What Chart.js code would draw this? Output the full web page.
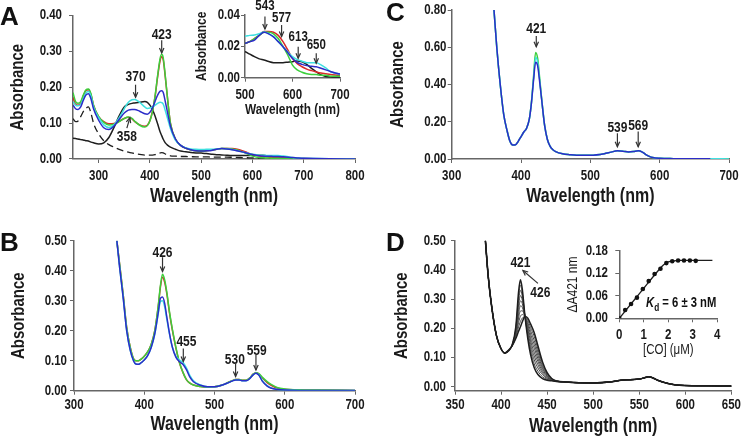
<!DOCTYPE html>
<html><head><meta charset="utf-8">
<script src="https://cdn.jsdelivr.net/npm/chart.js@4.4.1/dist/chart.umd.min.js"></script>
<style>
html,body{margin:0;padding:0;width:745px;height:437px;overflow:hidden;background:#fff;}
canvas{position:absolute;left:0;top:0;}
.lbl{position:absolute;font-family:"Liberation Sans",Arial,sans-serif;font-weight:bold;color:#111;line-height:24px;white-space:nowrap;}
</style></head><body>
<canvas id="cA" width="745" height="437"></canvas>
<canvas id="cAi" width="745" height="437"></canvas>
<canvas id="cB" width="745" height="437"></canvas>
<canvas id="cC" width="745" height="437"></canvas>
<canvas id="cD" width="745" height="437"></canvas>
<canvas id="cDi" width="745" height="437"></canvas>
<div class="lbl" style="left:0px;top:4px;font-size:26px;">A</div>
<div class="lbl" style="left:0px;top:230px;font-size:26px;">B</div>
<div class="lbl" style="left:386px;top:0px;font-size:26px;">C</div>
<div class="lbl" style="left:386px;top:230px;font-size:26px;">D</div>
<div class="lbl" style="left:646px;top:290px;font-size:15px;transform:scaleX(0.75);transform-origin:0 0;"><i>K</i><span style="font-size:11px;position:relative;top:4px;">d</span> = 6 ± 3 nM</div>
<script>
// ---------------- Panel A ----------------
const A_wl = [250,255,260,265,270,275,280,285,290,300,310,320,330,340,350,358,365,370,380,390,395,400,405,410,415,420,423,426,430,435,440,450,460,470,480,490,500,510,520,530,540,550,560,570,580,590,600,610,620,630,640,650,660,670,680,690,700,750,800];
const A_green = [.185,.160,.155,.160,.178,.192,.195,.182,.150,.118,.102,.095,.097,.104,.113,.117,.113,.106,.094,.089,.093,.106,.132,.175,.232,.281,.292,.282,.232,.160,.100,.055,.038,.030,.026,.023,.022,.023,.025,.027,.029,.029,.028,.025,.020,.0145,.008,.005,.0035,.0025,.002,.002,.0015,.0015,.001,.001,.001,0,0];
const A_red = [.172,.152,.150,.156,.175,.190,.193,.180,.150,.118,.104,.098,.099,.105,.113,.116,.112,.105,.095,.091,.094,.107,.133,.173,.228,.275,.285,.276,.228,.160,.100,.055,.038,.030,.026,.023,.022,.023,.025,.027,.0295,.0295,.029,.027,.023,.0177,.0123,.009,.007,.0055,.0045,.0037,.003,.0025,.002,.0017,.0015,0,0];
const A_blue = [.150,.140,.138,.145,.163,.178,.182,.168,.140,.108,.087,.082,.092,.110,.128,.136,.138,.138,.133,.126,.125,.130,.142,.160,.178,.189,.190,.185,.160,.125,.092,.055,.038,.030,.026,.023,.022,.023,.024,.027,.029,.028,.026,.023,.0198,.016,.0123,.0097,.0085,.0077,.0073,.007,.006,.005,.004,.003,.0023,.0005,0];
const A_cyan = [.160,.150,.148,.152,.168,.183,.188,.175,.145,.115,.095,.088,.095,.115,.140,.158,.165,.166,.158,.145,.141,.142,.145,.150,.155,.158,.157,.153,.135,.110,.085,.052,.038,.031,.028,.027,.0265,.027,.0272,.028,.0292,.028,.0262,.023,.0198,.0165,.0134,.0115,.0105,.0096,.0095,.0095,.0082,.0062,.0038,.003,.0023,.0005,0];
const A_black = [.058,.057,.056,.054,.053,.051,.050,.047,.045,.042,.045,.060,.088,.120,.145,.152,.155,.156,.158,.160,.158,.150,.138,.120,.098,.075,.065,.055,.045,.038,.033,.027,.022,.020,.018,.017,.0166,.015,.0134,.012,.0113,.0103,.0096,.0095,.0096,.0099,.0102,.0107,.0102,.0085,.006,.0038,.0018,.0008,.0004,.0002,0,0,0];
const A_dashed = [.112,.104,.106,.118,.132,.141,.145,.128,.100,.070,.051,.040,.033,.027,.022,.019,.017,.015,.013,.011,.011,.011,.011,.012,.015,.017,.018,.017,.014,.011,.009,.008,.007,.007,.0065,.006,.006,.0058,.0055,.0053,.005,.005,.0048,.0045,.004,.0035,.003,.0028,.0025,.0022,.002,.0018,.0016,.0014,.0012,.001,.001,.0005,0];
const A_xTicks = [300,400,500,600,700,800];
const A_yTicks = [0,0.1,0.2,0.3,0.4];
const Ai_xTicks = [500,600,700];
const Ai_yTicks = [0,0.02,0.04];
const A_notes = [
  {t:'423', tx:423, ty:0.346, ax:423, ay:0.331, bx:423, by:0.295},
  {t:'370', tx:372, ty:0.228, ax:372, ay:0.207, bx:372, by:0.172},
  {t:'358', tx:355, ty:0.060, ax:355, ay:0.086, bx:361, by:0.115}
];
const Ai_notes = [
  {t:'543', tx:542, ty:0.0458, ax:542, ay:0.039, bx:542, by:0.031},
  {t:'577', tx:577, ty:0.038, ax:577, ay:0.0336, bx:577, by:0.0262},
  {t:'613', tx:612, ty:0.026, ax:612, ay:0.0198, bx:612, by:0.0124},
  {t:'650', tx:650, ty:0.0209, ax:650, ay:0.0156, bx:650, by:0.0092}
];
// ---------------- Panel B ----------------
const B_wl = [361,365,370,375,380,385,388,392,396,400,405,410,415,420,423,426,429,432,436,440,445,450,455,460,465,470,480,490,500,510,520,525,530,535,540,545,550,555,559,563,568,575,580,590,600,620,650,700];
const B_blue = [.50,.41,.31,.20,.135,.098,.089,.088,.094,.102,.118,.145,.190,.262,.308,.312,.292,.248,.190,.145,.112,.097,.088,.070,.045,.030,.018,.013,.013,.018,.027,.032,.036,.036,.033,.033,.040,.053,.058,.052,.032,.015,.009,.004,.002,.001,.001,.001];
const B_cyan = [.50,.41,.31,.20,.135,.098,.089,.088,.094,.102,.118,.145,.188,.258,.297,.300,.280,.240,.188,.146,.115,.102,.095,.076,.050,.033,.019,.013,.013,.018,.027,.032,.036,.036,.033,.033,.040,.053,.058,.053,.034,.017,.010,.004,.002,.001,.001,.001];
const B_green = [.50,.42,.32,.21,.145,.105,.100,.100,.106,.115,.130,.155,.200,.285,.350,.388,.370,.330,.262,.205,.145,.095,.062,.037,.025,.019,.014,.012,.013,.018,.028,.033,.037,.037,.035,.035,.042,.055,.060,.057,.045,.030,.022,.010,.006,.003,.002,.001];
const B_red = [.50,.42,.32,.21,.145,.105,.100,.100,.106,.115,.130,.155,.200,.282,.345,.378,.362,.325,.258,.202,.143,.094,.061,.037,.025,.019,.014,.012,.013,.018,.028,.033,.037,.037,.035,.035,.042,.055,.060,.056,.043,.027,.019,.008,.005,.003,.002,.001];
const B_xTicks = [300,400,500,600,700];
const B_yTicks = [0,0.1,0.2,0.3,0.4,0.5];
const B_notes = [
  {t:'426', tx:426, ty:0.460, ax:426, ay:0.445, bx:426, by:0.397},
  {t:'455', tx:460, ty:0.163, ax:455.6, ay:0.141, bx:455.6, by:0.097},
  {t:'530', tx:529, ty:0.102, ax:530, ay:0.091, bx:530, by:0.047},
  {t:'559', tx:560, ty:0.132, ax:559, ay:0.119, bx:559, by:0.069}
];
// ---------------- Panel C ----------------
const C_wl = [361,365,370,375,380,384,388,392,396,400,404,408,412,415,418,421,424,427,430,434,438,442,446,450,460,470,480,500,520,530,539,547,555,562,569,575,580,585,590,600,620,650,673,700];
const C_blue = [.80,.60,.40,.24,.15,.095,.075,.076,.095,.120,.145,.165,.215,.300,.420,.520,.500,.410,.310,.180,.105,.068,.050,.040,.028,.023,.020,.020,.028,.037,.044,.042,.038,.040,.044,.037,.024,.014,.008,.004,.002,.001,.001,null];
const C_green = [.80,.60,.40,.24,.15,.095,.075,.076,.095,.120,.145,.165,.215,.305,.440,.572,.540,.430,.315,.182,.106,.068,.050,.040,.028,.023,.020,.020,.028,.037,.044,.042,.038,.040,.044,.037,.024,.014,.008,.004,.002,.001,.001,.0005];
const C_cyan = [.80,.60,.40,.24,.15,.095,.075,.076,.095,.120,.145,.165,.215,.302,.430,.545,.520,.420,.312,.181,.105,.068,.050,.040,.028,.023,.020,.020,.028,.037,.044,.042,.038,.040,.044,.037,.024,.014,.008,.004,.002,.001,.001,.0005];
const C_xTicks = [300,400,500,600,700];
const C_yTicks = [0,0.2,0.4,0.6,0.8];
const C_notes = [
  {t:'421', tx:422, ty:0.696, ax:422, ay:0.660, bx:422, by:0.603},
  {t:'539', tx:539, ty:0.165, ax:539, ay:0.138, bx:539, by:0.066},
  {t:'569', tx:569, ty:0.177, ax:569, ay:0.147, bx:569, by:0.066}
];
// ---------------- Panel D ----------------
const D_wlLow = [383,386,390,395,400];
const D_low = [.50,.38,.27,.175,.13];
const D_wlSoret = [404,408,412,416,419,421,423,426,429,432,436,440,445,450,455,460];
const D_soret = [
  [.115,.125,.140,.165,.190,.205,.222,.240,.235,.215,.185,.140,.085,.048,.028,.020], // 426 nm (start)
  [.115,.125,.140,.169,.205,.223,.235,.240,.227,.203,.172,.129,.079,.045,.027,.020],
  [.115,.124,.141,.174,.220,.241,.247,.240,.219,.192,.158,.118,.072,.042,.026,.020],
  [.115,.124,.141,.178,.235,.259,.260,.240,.212,.180,.145,.107,.066,.039,.025,.019],
  [.115,.124,.141,.183,.250,.277,.272,.240,.204,.168,.132,.096,.060,.036,.024,.019],
  [.115,.123,.142,.187,.265,.294,.285,.240,.196,.157,.118,.086,.053,.034,.024,.019],
  [.115,.123,.142,.192,.280,.312,.297,.240,.188,.145,.105,.075,.047,.031,.023,.019],
  [.115,.123,.142,.196,.295,.330,.310,.240,.181,.133,.092,.064,.041,.028,.022,.018],
  [.115,.122,.143,.201,.310,.348,.322,.240,.173,.122,.078,.053,.034,.025,.021,.018],
  [.115,.122,.143,.205,.325,.366,.335,.240,.165,.110,.065,.042,.028,.022,.020,.018]  // 421 nm (CO)
];
const D_wlHigh = [470,480,500,520,530,540,550,555,560,565,570,580,590,600,625,650];
const D_high = [.016,.014,.013,.017,.022,.024,.026,.030,.034,.030,.022,.012,.006,.004,.003,.002];
const D_xTicks = [350,400,450,500,550,600,650];
const D_yTicks = [0,0.1,0.2,0.3,0.4,0.5];
const D_notes = [
  {t:'421', tx:421, ty:0.4226},
  {t:'426', tx:442.6, ty:0.322, ax:440, ay:0.354, bx:423.7, by:0.398}
];
// inset D: CO titration
const Di_co = [0,0.24,0.48,0.72,0.96,1.2,1.44,1.68,1.92,2.16,2.4,2.64,2.88,3.12];
const Di_dA = [0,0.022,0.038,0.055,0.078,0.099,0.118,0.132,0.147,0.152,0.154,0.154,0.154,0.153];
const Di_fitX = [0,0.5,1.0,1.5,1.8,2.0,2.2,2.5,3.0,3.8];
const Di_fitY = [0,0.040,0.080,0.120,0.142,0.150,0.153,0.154,0.154,0.154];
const Di_xTicks = [0,1,2,3,4];
const Di_yTicks = [0,0.06,0.12,0.18];

// ---------------- narrow text (the figure uses a condensed sans) ----------------
const SX = 0.82, K = 1/SX;
const FONT = '"Liberation Sans", Arial, sans-serif';
function narrowCanvas(canvas){
  const ctx = canvas.getContext('2d');
  const orig = ctx.fillText.bind(ctx);
  ctx.fillText = function(t, x, y, mw){
    ctx.save(); ctx.translate(x, y); ctx.scale(SX, 1);
    if (mw != null) orig(t, 0, 0, mw/SX); else orig(t, 0, 0);
    ctx.restore();
  };
  return canvas;
}

// ---------------- helpers ----------------
const COL = {green:'#3ccf3c', red:'#d82a2a', blue:'#2c2cc8', cyan:'#3fe0e0', black:'#1e1e1e'};
function xy(wl, vals){ const out=[]; wl.forEach((w,i)=>{ if(vals[i]!=null) out.push({x:w,y:vals[i]}); }); return out; }
function ds(data, color, extra){ return Object.assign({data, borderColor:color, backgroundColor:color, borderWidth:1.5, pointRadius:0, fill:false, cubicInterpolationMode:'monotone'}, extra||{}); }
function arrow(ctx,x1,y1,x2,y2){
  ctx.beginPath(); ctx.moveTo(x1,y1); ctx.lineTo(x2,y2); ctx.stroke();
  const a=Math.atan2(y2-y1,x2-x1), h=5.5, s=0.42;
  ctx.beginPath();
  ctx.moveTo(x2-h*Math.cos(a-s), y2-h*Math.sin(a-s));
  ctx.lineTo(x2,y2);
  ctx.lineTo(x2-h*Math.cos(a+s), y2-h*Math.sin(a+s));
  ctx.stroke();
}
function notesPlugin(notes, size){
  return {id:'notes', afterDraw(chart){
    const ctx=chart.ctx, xs=chart.scales.x, ys=chart.scales.y;
    ctx.save();
    ctx.fillStyle='#1a1a1a'; ctx.strokeStyle='#333'; ctx.lineWidth=1.2;
    ctx.font='bold '+(size*K)+'px '+FONT; ctx.textAlign='center'; ctx.textBaseline='middle';
    notes.forEach(n=>{
      if(n.t) ctx.fillText(n.t, xs.getPixelForValue(n.tx), ys.getPixelForValue(n.ty));
      if(n.ax!=null) arrow(ctx, xs.getPixelForValue(n.ax), ys.getPixelForValue(n.ay), xs.getPixelForValue(n.bx), ys.getPixelForValue(n.by));
    });
    ctx.restore();
  }};
}
function panel(id, o){
  const tick = (o.tickSize||11.5)*K, yts=o.yTitleSize*K, xts=o.xTitleSize*K;
  const yLH = yts*1.2, xLH = xts*1.2, tl = 4;
  const yW = o.L + yLH/2 - o.yTitleX;
  const xH = o.xTitleY - o.B + xLH/2;
  const xPad = o.xTickY - o.B - tl - tick*0.6;
  const yPad = o.L - tl - o.yTickR;
  const tickFont = {family:FONT, weight:'bold', size:tick};
  return new Chart(narrowCanvas(document.getElementById(id)), {
    type:'line',
    data:{datasets:o.datasets},
    options:{
      responsive:false, animation:false, events:[],
      layout:{padding:{left:o.L-yW, top:o.T, right:745-o.R, bottom:437-o.B-xH}},
      plugins:{legend:{display:false}, tooltip:{enabled:false}},
      scales:{
        x:{type:'linear', min:o.xmin, max:o.xmax,
          afterFit:s=>{s.height=xH;},
          afterBuildTicks:s=>{s.ticks=o.xTicks.map(v=>({value:v}));},
          ticks:{font:tickFont, color:'#1a1a1a', padding:xPad, maxRotation:0, autoSkip:false, callback:o.xFmt||(v=>String(v))},
          grid:{drawOnChartArea:false, drawTicks:true, tickLength:tl, color:'#666', lineWidth:1},
          border:{color:'#666', width:1.5},
          title:{display:true, text:o.xTitle, color:'#1a1a1a', padding:0, font:{family:FONT, weight:o.titleWeight||'bold', size:xts}}
        },
        y:{type:'linear', min:o.ymin, max:o.ymax,
          afterFit:s=>{s.width=yW;},
          afterBuildTicks:s=>{s.ticks=o.yTicks.map(v=>({value:v}));},
          ticks:{font:tickFont, color:'#1a1a1a', padding:yPad, autoSkip:false, callback:o.yFmt||(v=>v.toFixed(2))},
          grid:{drawOnChartArea:false, drawTicks:true, tickLength:tl, color:'#666', lineWidth:1},
          border:{color:'#666', width:1.5},
          title:{display:true, text:o.yTitle, color:'#1a1a1a', padding:0, font:{family:FONT, weight:o.titleWeight||'bold', size:yts}}
        }
      }
    },
    plugins: o.notes ? [notesPlugin(o.notes, o.noteSize||12)] : []
  });
}

// ---------------- build ----------------
const dash = {borderDash:[7,4], borderWidth:1.3};
panel('cA', {L:73, R:355, T:10, B:159, xmin:250, xmax:800, ymin:0, ymax:0.4,
  xTicks:A_xTicks, yTicks:A_yTicks, xTitle:'Wavelength (nm)', yTitle:'Absorbance',
  yTitleX:18, yTitleSize:15, xTitleY:197, xTitleSize:16, xTickY:176, yTickR:62,
  datasets:[ds(xy(A_wl,A_blue),COL.blue), ds(xy(A_wl,A_cyan),COL.cyan), ds(xy(A_wl,A_green),COL.green), ds(xy(A_wl,A_red),COL.red),
            ds(xy(A_wl,A_black),COL.black), ds(xy(A_wl,A_dashed),COL.black,dash)],
  notes:A_notes});
panel('cAi', {L:245, R:340, T:15, B:77.7, xmin:500, xmax:700, ymin:0, ymax:0.04,
  xTicks:Ai_xTicks, yTicks:Ai_yTicks, xTitle:'Wavelength (nm)', yTitle:'Absorbance',
  yTitleX:202, yTitleSize:12, xTitleY:110, xTitleSize:12.4, xTickY:95, yTickR:240,
  datasets:[ds(xy(A_wl,A_blue),COL.blue), ds(xy(A_wl,A_cyan),COL.cyan), ds(xy(A_wl,A_green),COL.green), ds(xy(A_wl,A_red),COL.red),
            ds(xy(A_wl,A_black),COL.black)],
  notes:Ai_notes, noteSize:11.5});
panel('cB', {L:74, R:355, T:240.7, B:390.7, xmin:300, xmax:700, ymin:0, ymax:0.5,
  xTicks:B_xTicks, yTicks:B_yTicks, xTitle:'Wavelength (nm)', yTitle:'Absorbance',
  yTitleX:18.5, yTitleSize:15, xTitleY:425, xTitleSize:16, xTickY:405, yTickR:67,
  datasets:[ds(xy(B_wl,B_blue),COL.blue), ds(xy(B_wl,B_cyan),COL.cyan), ds(xy(B_wl,B_green),COL.green), ds(xy(B_wl,B_red),COL.red)],
  notes:B_notes});
panel('cC', {L:451.7, R:735.7, T:10, B:159, xmin:300, xmax:700, ymin:0, ymax:0.8,
  xTicks:C_xTicks, yTicks:C_yTicks, xTitle:'Wavelength (nm)', yTitle:'Absorbance',
  yTitleX:398.3, yTitleSize:15, xTitleY:196.7, xTitleSize:16, xTickY:175.7, yTickR:446.5,
  datasets:[ds(xy(C_wl,C_blue),COL.blue), ds(xy(C_wl,C_cyan),COL.cyan), ds(xy(C_wl,C_green),COL.green)],
  notes:C_notes});
const D_sets = D_soret.map((s,i)=>{
  const wl = D_wlLow.concat(D_wlSoret, D_wlHigh), v = D_low.concat(s, D_high);
  const outer = (i===0 || i===D_soret.length-1);
  return ds(xy(wl,v), outer?COL.black:'#4a4a4a', {borderWidth: outer?1.5:1, order: outer?0:1});
});
panel('cD', {L:455, R:735.7, T:240.7, B:390.7, xmin:350, xmax:650, ymin:-0.0137, ymax:0.5,
  xTicks:D_xTicks, yTicks:D_yTicks, xTitle:'Wavelength (nm)', yTitle:'Absorbance',
  yTitleX:401.7, yTitleSize:15, xTitleY:426.7, xTitleSize:16, xTickY:405, yTickR:446,
  datasets:D_sets, notes:D_notes});
panel('cDi', {L:619.3, R:717.3, T:250.7, B:318.3, xmin:0, xmax:4, ymin:0, ymax:0.18,
  xTicks:Di_xTicks, yTicks:Di_yTicks, xTitle:'[CO] (\u03bcM)', yTitle:'\u0394A421 nm', titleWeight:'normal',
  yTitleX:573, yTitleSize:12, xTitleY:350, xTitleSize:11.5, xTickY:335, yTickR:608,
  xFmt:v=>String(v),
  datasets:[ds(xy(Di_co,Di_dA),COL.black,{showLine:false, pointRadius:2.3, pointBackgroundColor:'#111', pointBorderWidth:0}),
            ds(xy(Di_fitX,Di_fitY),COL.black,{borderWidth:1.3})]});
</script>
</body></html>
